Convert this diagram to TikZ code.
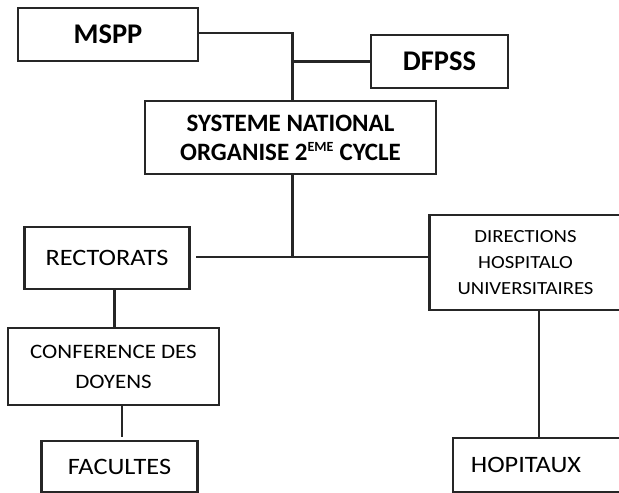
\documentclass[tikz,border=0pt]{standalone}
\usepackage{fontspec}
\setmainfont{Carlito}
\newfontfamily\wideface[FakeStretch=1.12]{Carlito}
\begin{document}
\begin{tikzpicture}[x=1pt,y=-1pt,
  box/.style={draw=black!85,line width=2.4pt,fill=white,inner sep=0pt,align=center},
  link/.style={draw=black!85,line width=2.4pt},
  big/.style={font=\fontsize{28.5}{30}\selectfont\bfseries},
  mid/.style={font=\fontsize{25}{29}\selectfont\bfseries},
  low/.style={font=\wideface\fontsize{23.5}{30}\selectfont},
  conft/.style={font=\wideface\fontsize{20.5}{30}\selectfont},
  small/.style={font=\wideface\fontsize{18.5}{26}\selectfont},
]
\useasboundingbox[fill=white] (0,0) rectangle (619,493);
\begin{scope}
\clip (0,0) rectangle (619,493);
\node[box,big,minimum width=180pt,minimum height=53pt] (mspp) at (108,34.5) {MSPP};
\node[box,big,minimum width=137pt,minimum height=53pt] (dfpss) at (439.5,61.5) {DFPSS};
\node[box,mid,minimum width=291pt,minimum height=73pt] (sys) at (290.5,137.5) {SYSTEME NATIONAL\\ORGANISE 2\textsuperscript{\fontsize{14}{14}\selectfont EME} CYCLE};
\node[box,low,minimum width=165pt,minimum height=62pt] (rect) at (107,258) {RECTORATS};
\node[box,small,minimum width=192pt,minimum height=95pt] (dir) at (525.5,262.5) {DIRECTIONS\\HOSPITALO\\UNIVERSITAIRES};
\node[box,conft,minimum width=211pt,minimum height=77pt] (conf) at (113.5,366.5) {CONFERENCE DES\\DOYENS};
\node[box,low,minimum width=156pt,minimum height=51pt] (fac) at (119.5,466.5) {FACULTES};
\node[box,minimum width=175pt,minimum height=54pt] (hop) at (540.5,465) {};
\node[low] (hoptext) at (526,465) {HOPITAUX};
\coordinate (t) at (292.5,0);
\coordinate (hl) at (196,257);
\coordinate (c1) at (114.5,0);
\coordinate (c2) at (122,0);
\coordinate (c3) at (539,0);
\coordinate (fend) at (122,437);
\draw[link] (mspp.east |- 0,32.7) -- (t |- 0,32.7) -- (t |- sys.north);
\draw[link] (dfpss.west) -- (t |- dfpss.west);
\draw[link] (t |- sys.south) -- (t |- hl);
\draw[link] (hl) -- (hl -| dir.west);
\draw[link] (c1 |- rect.south) -- (c1 |- conf.north);
\draw[link] (c2 |- conf.south) -- (fend);
\draw[link] (c3 |- dir.south) -- (c3 |- hop.north);
\end{scope}
\end{tikzpicture}
\end{document}
